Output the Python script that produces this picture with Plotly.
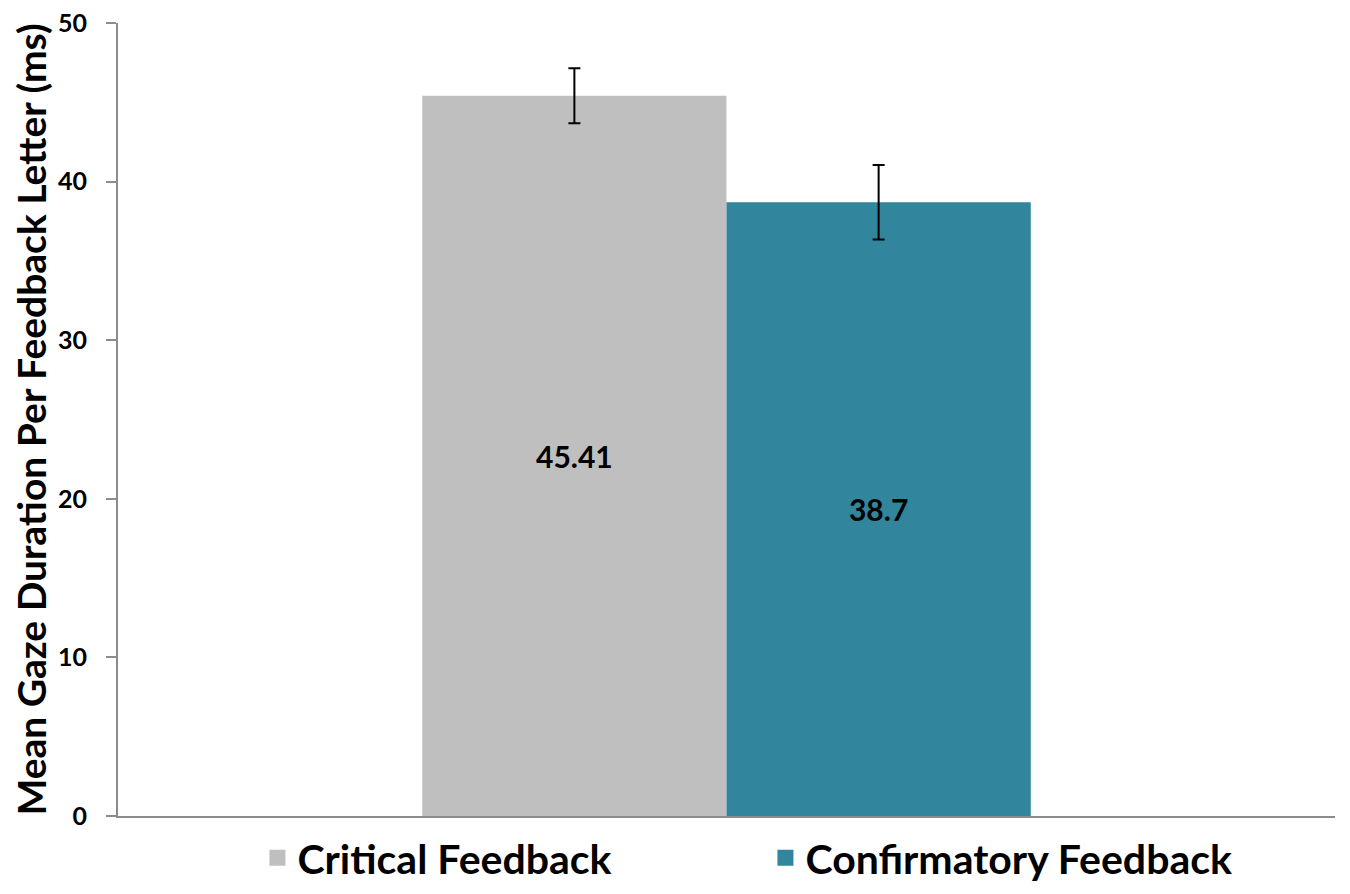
import plotly.graph_objects as go

categories = ["Critical Feedback", "Confirmatory Feedback"]
means = [45.41, 38.7]
errors = [1.73, 2.35]
labels = ["45.41", "38.7"]
colors = ["#BFBFBF", "#31859C"]
y_ticks = [0, 10, 20, 30, 40, 50]

FONT = "Lato"

fig = go.Figure()
for name, m, e, lab, c in zip(categories, means, errors, labels, colors):
    fig.add_trace(go.Bar(
        x=[""], y=[m], name=name, marker=dict(color=c, line=dict(width=0)),
        error_y=dict(type="data", array=[e], visible=True, color="black", thickness=2, width=6),
        text=[lab], textposition="inside", insidetextanchor="middle",
        textfont=dict(family=FONT, size=30, color="black", weight="bold"),
        showlegend=False,
    ))
    fig.add_trace(go.Scatter(
        x=[None], y=[None], mode="markers", name=name,
        marker=dict(symbol="square", size=16, color=c),
        showlegend=True,
    ))

fig.update_layout(
    width=1334, height=878,
    margin=dict(l=110, r=7, t=15, b=70, autoexpand=False),
    paper_bgcolor="white", plot_bgcolor="white",
    barmode="group", bargap=0.5, bargroupgap=0,
    font=dict(family=FONT, color="black"),
    legend=dict(
        orientation="h", x=0.532, xanchor="center", y=-0.053, yanchor="middle",
        entrywidth=463, entrywidthmode="pixels", itemsizing="trace",
        font=dict(family=FONT, size=41, color="black", weight="bold"),
        bgcolor="rgba(0,0,0,0)", tracegroupgap=0,
    ),
    xaxis=dict(showline=True, linecolor="#8C8C8C", linewidth=2, showticklabels=False,
               ticks="", showgrid=False, zeroline=False, automargin=False),
    yaxis=dict(range=[0, 50], tickvals=y_ticks, showline=True, linecolor="#8C8C8C", linewidth=2,
               ticks="outside", ticklen=10, tickcolor="#8C8C8C", tickwidth=2,
               showgrid=False, zeroline=False, ticklabelstandoff=14, automargin=False,
               ticklabeloverflow="allow",
               tickfont=dict(family=FONT, size=25, color="black", weight="bold"),
               title=dict(text="Mean Gaze Duration Per Feedback Letter (ms)", standoff=29,
                          font=dict(family=FONT, size=39, color="black", weight="bold"))),
)

fig.write_html("out.html")
